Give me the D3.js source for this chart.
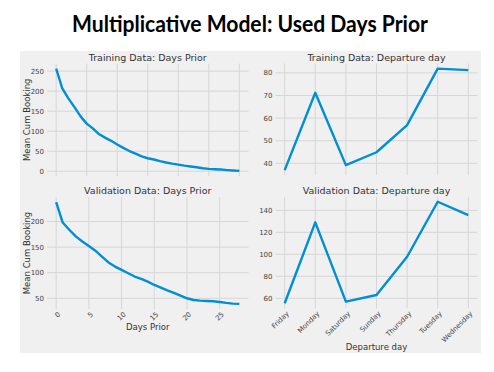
<!DOCTYPE html>
<html>
<head>
<meta charset="utf-8">
<script src="https://cdn.jsdelivr.net/npm/d3@7"></script>
<style>
    body { margin: 0; background: #ffffff; }
    text { font-family: "DejaVu Sans", sans-serif; }
</style>
</head>
<body>
<svg id="vis"></svg>
<script>
// days prior (training goes further back than validation)
const trainDays = d3.range(0, 31);
const trainDaysBooking = [256, 207, 182, 160, 137, 119, 107, 93, 84, 76, 67, 58.5, 50.5, 44, 37, 32.5,
    29.5, 25.5, 22, 19, 16.5, 14, 12, 10, 7.5, 6, 5, 4.3, 3, 2, 1];
const validDays = d3.range(0, 29);
const validDaysBooking = [238, 198, 184, 171, 161, 152, 143, 131.5, 120, 112, 105.5, 99, 92.5, 88, 82.5,
    76, 71, 65.5, 60.5, 55, 50, 46.7, 45.4, 44.8, 44.2, 42.8, 41, 39.5, 39];

// departure day categories
const weekdays = ["Friday", "Monday", "Saturday", "Sunday", "Thursday", "Tuesday", "Wednesday"];
const trainWeekdayBooking = [37, 71.2, 39.2, 44.9, 56.9, 81.9, 81.2];
const validWeekdayBooking = [55.5, 129.1, 56.9, 63, 97.8, 147.8, 135.7];

// tick labels
const trainDaysTicks = [0, 50, 100, 150, 200, 250];
const trainWeekdayTicks = [40, 50, 60, 70, 80];
const validDaysTicks = [50, 100, 150, 200];
const validWeekdayTicks = [60, 80, 100, 120, 140];
const dayPriorTicks = [0, 5, 10, 15, 20, 25, 30];

const W = 494, H = 372;
const LINE = "#008fd5", GRID = "#d6d6d6", BG = "#f0f0f0";

let svg = d3.select("#vis").attr("width", W).attr("height", H);

// gray figure area of the slide
svg.append("rect")
    .attr("x", 20).attr("y", 51)
    .attr("width", 461).attr("height", 302)
    .attr("fill", BG);

// slide title
svg.append("text")
    .attr("x", 250).attr("y", 32)
    .attr("text-anchor", "middle")
    .style("font-family", "Lato, 'Open Sans', sans-serif")
    .style("font-weight", "bold")
    .style("font-size", "22px")
    .attr("textLength", 356)
    .attr("lengthAdjust", "spacingAndGlyphs")
    .attr("fill", "#000")
    .text("Multiplicative Model: Used Days Prior");

// pad a numeric extent by 5% like matplotlib does
function padded(values){
    let ext = d3.extent(values);
    let p = (ext[1] - ext[0]) * 0.05;
    return [ext[0] - p, ext[1] + p];
}

function drawPanel(opt){
    let g = svg.append("g");
    let box = opt.box;

    let y = d3.scaleLinear().domain(padded(opt.ys)).range([box.bottom, box.top]);
    let x;
    if (opt.categorical){
        x = d3.scalePoint().domain(opt.xs).range([box.left, box.right]).padding(0.3);
    } else {
        x = d3.scaleLinear().domain(padded(opt.xs)).range([box.left, box.right]);
    }

    // grid lines
    g.selectAll(".hgrid").data(opt.yTicks).enter().append("line")
        .attr("x1", box.left).attr("x2", box.right)
        .attr("y1", d => y(d)).attr("y2", d => y(d))
        .attr("stroke", GRID).attr("stroke-width", 1);
    g.selectAll(".vgrid").data(opt.xTicks).enter().append("line")
        .attr("x1", d => x(d)).attr("x2", d => x(d))
        .attr("y1", box.top).attr("y2", box.bottom)
        .attr("stroke", GRID).attr("stroke-width", 1);

    // y tick labels
    g.selectAll(".ylab").data(opt.yTicks).enter().append("text")
        .attr("x", box.left - 3)
        .attr("y", d => y(d))
        .attr("dy", "0.35em")
        .attr("text-anchor", "end")
        .style("font-size", "7px")
        .attr("fill", "#444")
        .text(d => d);

    // x tick labels (only bottom row shows them)
    if (opt.showX){
        g.selectAll(".xlab").data(opt.xTicks).enter().append("text")
            .attr("transform", d => "translate(" + (x(d) + 3) + "," + (box.bottom + 4) + ") rotate(-45)")
            .attr("dy", "0.35em")
            .attr("text-anchor", "end")
            .style("font-size", "7px")
            .attr("fill", "#444")
            .text(d => d);
    }

    let line = d3.line().x((d, i) => x(opt.xs[i])).y(d => y(d));
    g.append("path")
        .attr("d", line(opt.ys))
        .attr("fill", "none")
        .attr("stroke", LINE)
        .attr("stroke-width", 2.4)
        .attr("stroke-linejoin", "round");

    // panel title
    g.append("text")
        .attr("x", (box.left + box.right) / 2)
        .attr("y", box.top - 3)
        .attr("text-anchor", "middle")
        .style("font-size", "9.5px")
        .attr("fill", "#333")
        .text(opt.title);

    if (opt.ylabel){
        g.append("text")
            .attr("transform", "translate(30," + ((box.top + box.bottom) / 2) + ") rotate(-90)")
            .attr("text-anchor", "middle")
            .style("font-size", "8.5px")
            .attr("fill", "#333")
            .text(opt.ylabel);
    }
    if (opt.xlabel){
        g.append("text")
            .attr("x", (box.left + box.right) / 2)
            .attr("y", opt.xlabelY)
            .attr("text-anchor", "middle")
            .style("font-size", "8.5px")
            .attr("fill", "#333")
            .text(opt.xlabel);
    }
}

drawPanel({
    box: {left: 47, right: 248.5, top: 63.6, bottom: 176},
    xs: trainDays, ys: trainDaysBooking,
    xTicks: dayPriorTicks, yTicks: trainDaysTicks,
    title: "Training Data: Days Prior", ylabel: "Mean Cum Booking"
});
drawPanel({
    box: {left: 275.5, right: 477.5, top: 63.5, bottom: 175.2},
    xs: weekdays, ys: trainWeekdayBooking, categorical: true,
    xTicks: weekdays, yTicks: trainWeekdayTicks,
    title: "Training Data: Departure day"
});
drawPanel({
    box: {left: 47, right: 248.5, top: 197, bottom: 309},
    xs: validDays, ys: validDaysBooking,
    xTicks: dayPriorTicks.slice(0, 6), yTicks: validDaysTicks, showX: true,
    title: "Validation Data: Days Prior", ylabel: "Mean Cum Booking",
    xlabel: "Days Prior", xlabelY: 330
});
drawPanel({
    box: {left: 275.5, right: 477.5, top: 196.7, bottom: 308.3},
    xs: weekdays, ys: validWeekdayBooking, categorical: true,
    xTicks: weekdays, yTicks: validWeekdayTicks, showX: true,
    title: "Validation Data: Departure day",
    xlabel: "Departure day", xlabelY: 350
});
</script>
</body>
</html>
